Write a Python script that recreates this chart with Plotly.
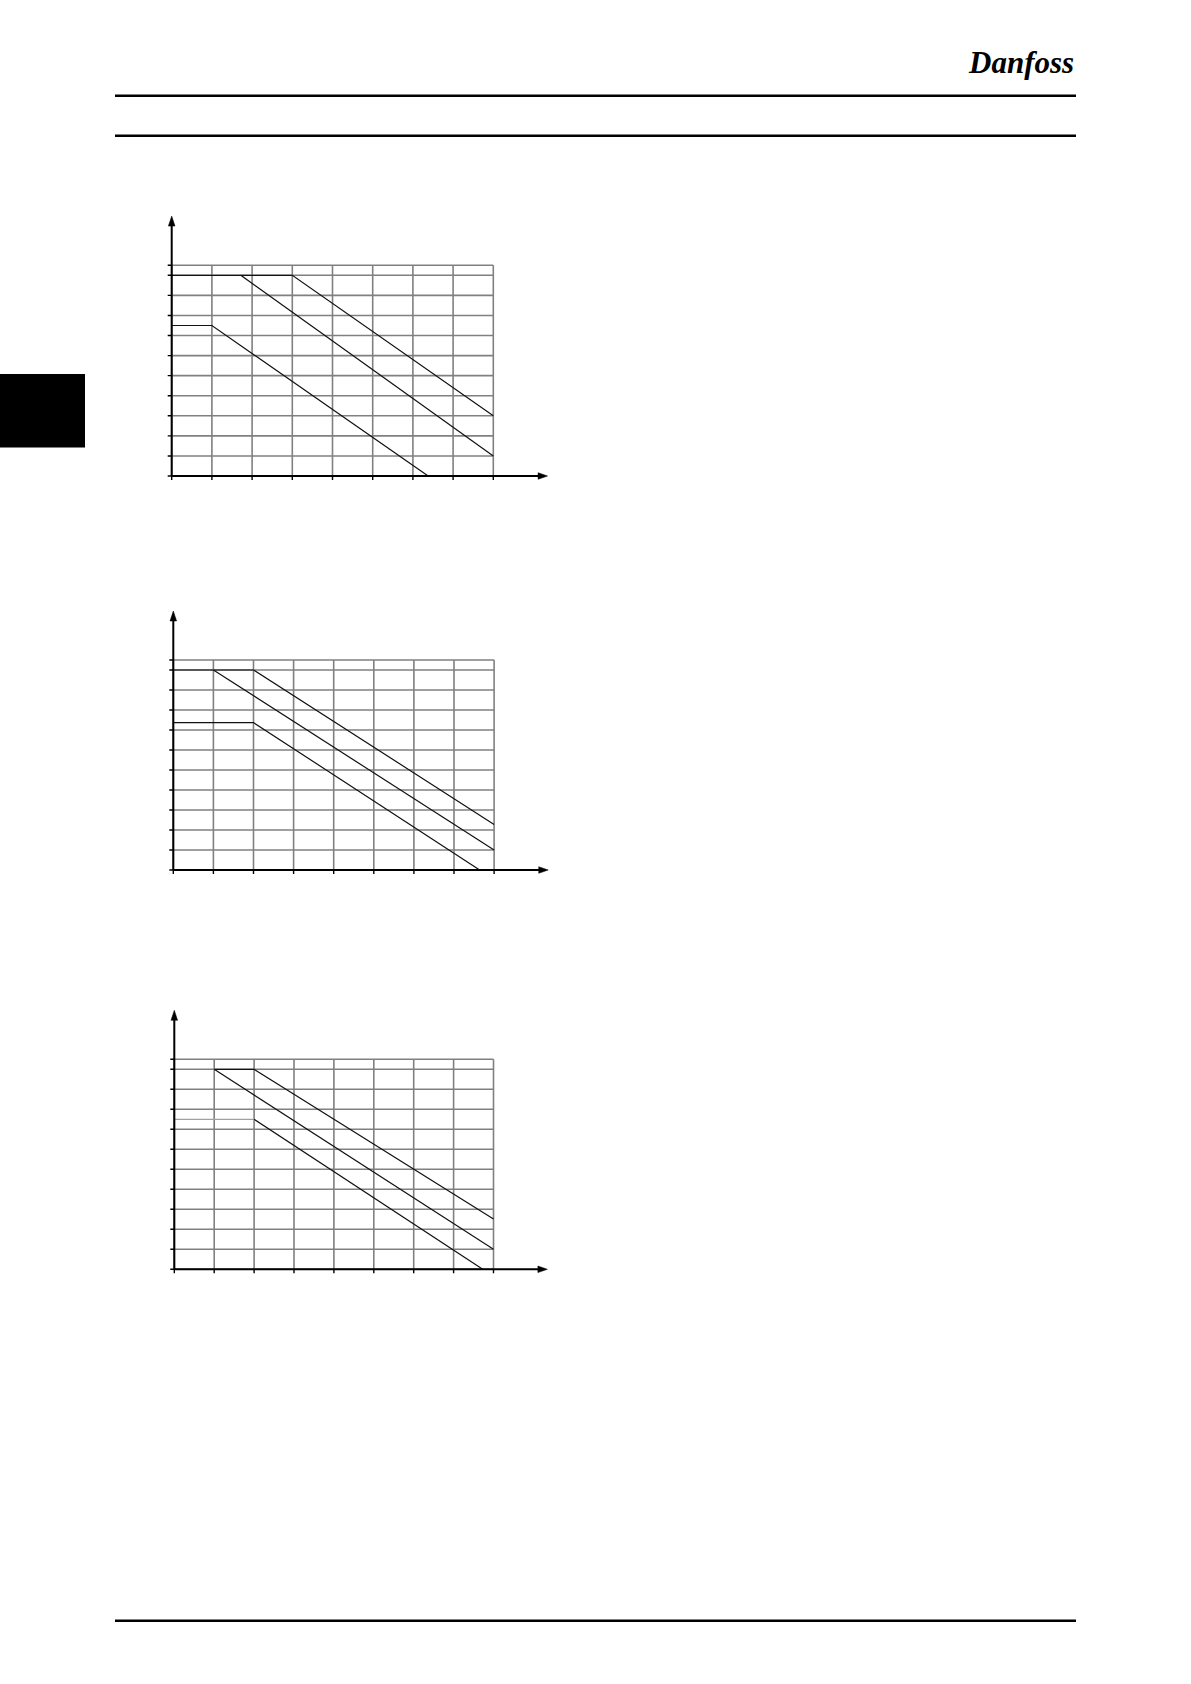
import plotly.graph_objects as go

W, H = 1191, 1684

# ---------------- data ----------------
GRID_X = [0, 1, 2, 3, 4, 5, 6, 7, 8]
GRID_Y = [0, 1, 2, 3, 4, 5, 6, 7, 8, 9, 10, 10.5]
AXIS_X_END = 9.35
AXIS_Y_END = 12.95

# chart 1
C1_A_X = [0, 3, 8]
C1_A_Y = [10, 10, 3]
C1_B_X = [1.72, 8]
C1_B_Y = [10, 1]
C1_C_X = [0, 1, 6.38]
C1_C_Y = [7.5, 7.5, 0]
# chart 2
C2_A_X = [0, 2, 8]
C2_A_Y = [10, 10, 2.28]
C2_B_X = [1, 8]
C2_B_Y = [10, 1]
C2_C_X = [0, 2, 7.64]
C2_C_Y = [7.37, 7.37, 0]
# chart 3
C3_A_X = [1, 2, 8]
C3_A_Y = [10, 10, 2.52]
C3_B_X = [1, 8]
C3_B_Y = [10, 1]
C3_C_X = [0, 2, 7.73]
C3_C_Y = [7.5, 7.5, 0]

# ---------------- layout geometry (pixels) ----------------
PANELS = [
    dict(x0=171.7, y0=476.0, ux=40.2, uy=20.07),
    dict(x0=173.3, y0=870.0, ux=40.1, uy=20.0),
    dict(x0=174.3, y0=1269.3, ux=39.9, uy=20.0),
]
XR = [-0.6, 9.6]
YR = [-0.6, 13.3]

GRID_COLOR = "#808080"
LINE_COLOR = "#111111"

fig = go.Figure()
layout = dict(width=W, height=H, margin=dict(l=0, r=0, t=0, b=0),
              paper_bgcolor="white", plot_bgcolor="rgba(0,0,0,0)",
              showlegend=False)
shapes = []


def grid_xy():
    xs, ys = [], []
    for gx in GRID_X:
        xs += [gx, gx, None]
        ys += [GRID_Y[0], GRID_Y[-1], None]
    for gy in GRID_Y:
        xs += [GRID_X[0], GRID_X[-1], None]
        ys += [gy, gy, None]
    return xs, ys


series = [
    [(C1_A_X, C1_A_Y, LINE_COLOR), (C1_B_X, C1_B_Y, LINE_COLOR), (C1_C_X, C1_C_Y, LINE_COLOR)],
    [(C2_A_X, C2_A_Y, LINE_COLOR), (C2_B_X, C2_B_Y, LINE_COLOR), (C2_C_X, C2_C_Y, LINE_COLOR)],
    [(C3_A_X, C3_A_Y, LINE_COLOR), (C3_B_X, C3_B_Y, LINE_COLOR),
     (C3_C_X[:2], C3_C_Y[:2], "#a0a0a0"), (C3_C_X[1:], C3_C_Y[1:], LINE_COLOR)],
]

for i, p in enumerate(PANELS):
    sfx = "" if i == 0 else str(i + 1)
    xname, yname = "x" + sfx, "y" + sfx
    left = p["x0"] + XR[0] * p["ux"]
    right = p["x0"] + XR[1] * p["ux"]
    top = p["y0"] - YR[1] * p["uy"]
    bottom = p["y0"] - YR[0] * p["uy"]
    layout["xaxis" + sfx] = dict(domain=[left / W, right / W], range=XR, visible=False,
                                 anchor=yname, fixedrange=True)
    layout["yaxis" + sfx] = dict(domain=[1 - bottom / H, 1 - top / H], range=YR, visible=False,
                                 anchor=xname, fixedrange=True)

    gx, gy = grid_xy()
    fig.add_trace(go.Scatter(x=gx, y=gy, mode="lines", xaxis=xname, yaxis=yname,
                             line=dict(color=GRID_COLOR, width=1.6), hoverinfo="skip"))
    for sx, sy, col in series[i]:
        fig.add_trace(go.Scatter(x=sx, y=sy, mode="lines", xaxis=xname, yaxis=yname,
                                 line=dict(color=col, width=1.2), hoverinfo="skip"))

    # axes lines
    shapes.append(dict(type="line", xref=xname, yref=yname, x0=0, x1=AXIS_X_END - 0.15,
                       y0=0, y1=0, line=dict(color="black", width=2)))
    shapes.append(dict(type="line", xref=xname, yref=yname, x0=0, x1=0,
                       y0=0, y1=AXIS_Y_END - 0.3, line=dict(color="black", width=2)))
    # arrow heads
    shapes.append(dict(type="path", xref=xname, yref=yname, xsizemode="pixel", ysizemode="pixel",
                       xanchor=AXIS_X_END, yanchor=0, path="M0,0 L-9.5,3.3 L-9.5,-3.3 Z",
                       fillcolor="black", line=dict(color="black", width=0.5)))
    shapes.append(dict(type="path", xref=xname, yref=yname, xsizemode="pixel", ysizemode="pixel",
                       xanchor=0, yanchor=AXIS_Y_END, path="M0,0 L-3.3,-10 L3.3,-10 Z",
                       fillcolor="black", line=dict(color="black", width=0.5)))
    # ticks
    for gy_ in GRID_Y:
        shapes.append(dict(type="line", xref=xname, yref=yname, xsizemode="pixel",
                           xanchor=0, x0=-4, x1=0, y0=gy_, y1=gy_,
                           line=dict(color="black", width=1.4)))
    for gx_ in GRID_X:
        shapes.append(dict(type="line", xref=xname, yref=yname, ysizemode="pixel",
                           yanchor=0, y0=-4, y1=0, x0=gx_, x1=gx_,
                           line=dict(color="black", width=1.4)))

# page decorations
for ypx in [95.7, 135.7, 1620.7]:
    shapes.append(dict(type="line", xref="paper", yref="paper", x0=115 / W, x1=1076 / W,
                       y0=1 - ypx / H, y1=1 - ypx / H, line=dict(color="black", width=2.5)))
shapes.append(dict(type="rect", xref="paper", yref="paper", x0=0, x1=85 / W,
                   y0=1 - 447.5 / H, y1=1 - 374 / H, fillcolor="black", line=dict(width=0)))

layout["shapes"] = shapes
layout["annotations"] = [dict(xref="paper", yref="paper", x=1021 / W, y=1 - 63 / H,
                              text="<b><i>Danfoss</i></b>", showarrow=False,
                              font=dict(family="Liberation Serif", size=31, color="black"),
                              xanchor="center", yanchor="middle")]
fig.update_layout(**layout)
fig.write_html("out.html", config={"displayModeBar": False},
               post_script="document.body.style.margin='0';document.body.style.padding='0';")
